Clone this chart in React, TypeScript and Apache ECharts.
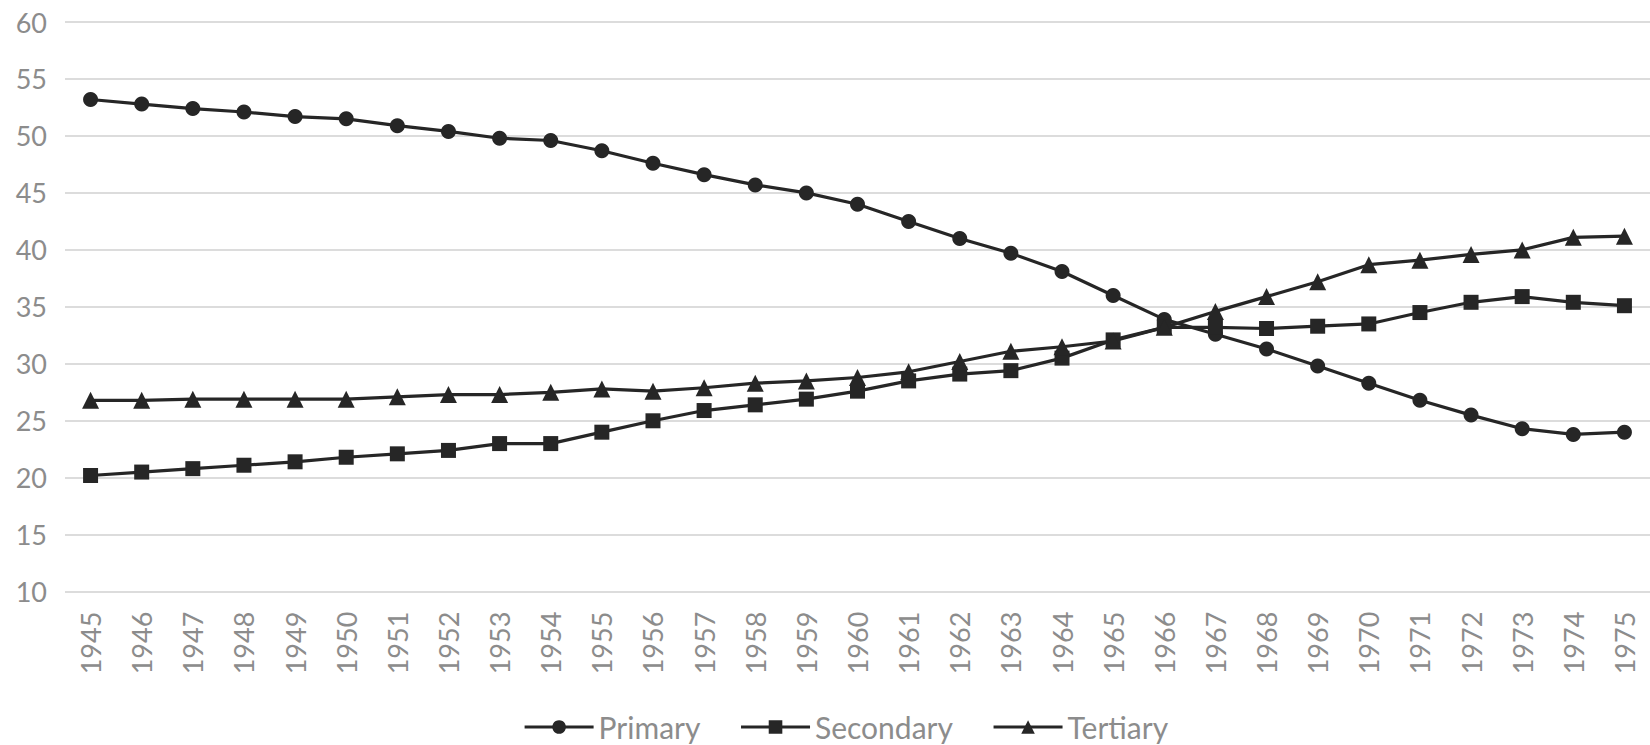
import React, { useEffect, useRef } from "react";
import * as echarts from "echarts";

const years = [
  "1945", "1946", "1947", "1948", "1949", "1950", "1951", "1952", "1953", "1954",
  "1955", "1956", "1957", "1958", "1959", "1960", "1961", "1962", "1963", "1964",
  "1965", "1966", "1967", "1968", "1969", "1970", "1971", "1972", "1973", "1974", "1975",
];

const primary = [
  53.2, 52.8, 52.4, 52.1, 51.7, 51.5, 50.9, 50.4, 49.8, 49.6,
  48.7, 47.6, 46.6, 45.7, 45.0, 44.0, 42.5, 41.0, 39.7, 38.1,
  36.0, 33.9, 32.6, 31.3, 29.8, 28.3, 26.8, 25.5, 24.3, 23.8, 24.0,
];

const secondary = [
  20.2, 20.5, 20.8, 21.1, 21.4, 21.8, 22.1, 22.4, 23.0, 23.0,
  24.0, 25.0, 25.9, 26.4, 26.9, 27.6, 28.5, 29.1, 29.4, 30.5,
  32.1, 33.2, 33.2, 33.1, 33.3, 33.5, 34.5, 35.4, 35.9, 35.4, 35.1,
];

const tertiary = [
  26.8, 26.8, 26.9, 26.9, 26.9, 26.9, 27.1, 27.3, 27.3, 27.5,
  27.8, 27.6, 27.9, 28.3, 28.5, 28.8, 29.3, 30.2, 31.1, 31.5,
  32.0, 33.2, 34.6, 35.9, 37.2, 38.7, 39.1, 39.6, 40.0, 41.1, 41.2,
];

const seriesNames = ["Primary", "Secondary", "Tertiary"];

const FONT = "Lato";
const TEXT_COLOR = "#8c8c8c";
const LINE_COLOR = "#262626";

export default function App() {
  const ref = useRef<HTMLDivElement>(null);

  useEffect(() => {
    if (!ref.current) return;
    const chart = echarts.init(ref.current, undefined, { renderer: "svg" });
    const mk = (name: string, data: number[], symbol: string, size: number) => ({
      name,
      type: "line",
      data,
      symbol,
      symbolSize: size,
      showSymbol: true,
      lineStyle: { color: LINE_COLOR, width: 3.2 },
      itemStyle: { color: LINE_COLOR },
      emphasis: { disabled: true },
    });
    chart.setOption({
      animation: false,
      backgroundColor: "#ffffff",
      textStyle: { fontFamily: FONT },
      grid: { left: 65, top: 22, width: 1593, height: 569.7 },
      legend: {
        data: seriesNames,
        left: 523,
        top: 711,
        padding: 0,
        itemWidth: 69,
        itemHeight: 17,
        itemGap: 39,
        lineStyle: { width: 3.2 },
        textStyle: { fontFamily: FONT, fontSize: 30, color: TEXT_COLOR, lineHeight: 32 },
      },
      xAxis: {
        type: "category",
        data: years,
        boundaryGap: true,
        axisLine: { show: false },
        axisTick: { show: false },
        axisLabel: {
          rotate: 90,
          interval: 0,
          margin: 20,
          fontFamily: FONT,
          fontSize: 27,
          color: TEXT_COLOR,
        },
      },
      yAxis: {
        type: "value",
        min: 10,
        max: 60,
        interval: 5,
        axisLine: { show: false },
        axisTick: { show: false },
        axisLabel: { margin: 18, fontFamily: FONT, fontSize: 27, color: TEXT_COLOR },
        splitLine: { lineStyle: { color: "#dcdcdc", width: 2 } },
      },
      series: [
        mk(seriesNames[0], primary, "circle", 15),
        mk(seriesNames[1], secondary, "rect", 15),
        mk(seriesNames[2], tertiary, "triangle", 17),
      ],
    });
    return () => chart.dispose();
  }, []);

  return (
    <div
      ref={ref}
      style={{ position: "absolute", left: 0, top: 0, width: 1650, height: 745, background: "#fff" }}
    />
  );
}
